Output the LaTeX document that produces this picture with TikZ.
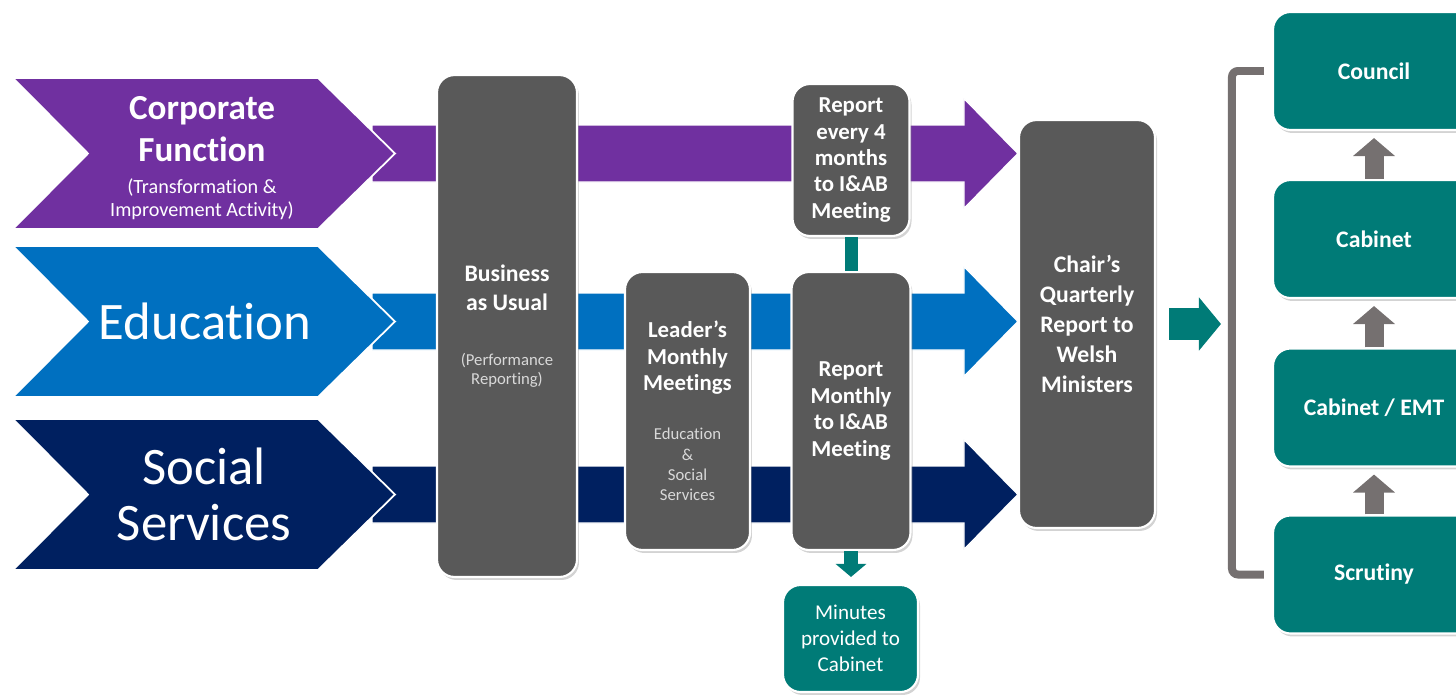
\documentclass[tikz,border=0pt]{standalone}
\usepackage{fontspec}
\setmainfont{Carlito}[Ligatures={TeX,NoCommon}]
\usetikzlibrary{arrows.meta,calc,shadows,backgrounds}
\definecolor{corpcol}{HTML}{7030A0}
\definecolor{educol}{HTML}{0070C0}
\definecolor{soccol}{HTML}{002060}
\definecolor{boxgrey}{HTML}{595959}
\definecolor{tealcol}{HTML}{007B77}
\definecolor{brkgrey}{HTML}{757070}
\definecolor{subgrey}{HTML}{D9D9D9}

\newcommand{\bandarrow}[3]{%
  \filldraw[fill=#1, draw=white, line width=0.8pt]
    ($(#2)+(0,-28.5)$) -- ($(#3)+(-54,-28.5)$) -- ($(#3)+(-54,-55)$) -- (#3)
    -- ($(#3)+(-54,55)$) -- ($(#3)+(-54,28.5)$) -- ($(#2)+(0,28.5)$) -- cycle;}
\newcommand{\subline}[1]{{\mdseries\color{subgrey}\fontsize{9.5}{11}\selectfont #1}}

\begin{document}
\begin{tikzpicture}[x=0.02cm,y=-0.02cm,
  greybox/.style={draw=white, line width=1.2pt, fill=boxgrey, rounded corners=0.35cm,
    inner sep=0pt, text=white, align=center, font=\bfseries\fontsize{13}{15}\selectfont,
    drop shadow={opacity=0.35, shadow xshift=0.04cm, shadow yshift=-0.06cm}},
  tealbox/.style={greybox, fill=tealcol},
  sidebox/.style={tealbox, minimum width=4.04cm, minimum height=2.36cm,
    font=\bfseries\fontsize{13.5}{16}\selectfont},
  chevtext/.style={text=white, align=center, inner sep=0pt},
  uparrow/.style={draw=brkgrey, line width=0.38cm, -{Triangle[length=0.36cm, width=0.82cm]},
    shorten >=0.14cm}]
\useasboundingbox (0,0) rectangle (1456,696);

\node[greybox, minimum width=2.8cm, minimum height=10.04cm, font=\bfseries\fontsize{13.5}{17}\selectfont]
  (bau) at (507,326) {Business\\as Usual\\[14pt]\subline{(Performance}\\[-6pt]\subline{Reporting)}};
\node[greybox, minimum width=2.5cm, minimum height=5.56cm]
  (leader) at (687.5,411) {Leader’s\\Monthly\\Meetings\\[13pt]\subline{Education}\\[-3.5pt]\subline{\&}\\[-3.5pt]\subline{Social}\\[-3.5pt]\subline{Services}};
\node[greybox, minimum width=2.34cm, minimum height=3.04cm]
  (rep4) at (851,160) {Report\\every 4\\months\\to I\&AB\\Meeting};
\node[greybox, minimum width=2.38cm, minimum height=5.56cm]
  (rmonth) at (851,411) {Report\\Monthly\\to I\&AB\\Meeting};
\node[greybox, minimum width=2.72cm, minimum height=8.16cm, font=\bfseries\fontsize{13.5}{17}\selectfont]
  (chair) at (1087,324) {Chair’s\\Quarterly\\Report to\\Welsh\\Ministers};
\node[tealbox, minimum width=2.7cm, minimum height=2.14cm, font=\fontsize{12}{14.7}\selectfont]
  (minutes) at (850.5,638.5) {Minutes\\provided to\\Cabinet};

\node[sidebox] (council) at (1374,71) {Council};
\node[sidebox] (cabinet) at (1374,239) {Cabinet};
\node[sidebox] (cabemt) at (1374,407.5) {Cabinet / EMT};
\node[sidebox] (scrutiny) at (1374,574.5) {Scrutiny};

\begin{scope}[on background layer]
  \coordinate (corpS) at (372,153.5);
  \coordinate (eduS) at (372,321.5);
  \coordinate (socS) at (372,494.5);
  \coordinate (corpT) at (chair.west |- corpS);
  \coordinate (eduT) at (chair.west |- eduS);
  \coordinate (socT) at (chair.west |- socS);
  \bandarrow{corpcol}{corpS}{corpT}
  \bandarrow{educol}{eduS}{eduT}
  \bandarrow{soccol}{socS}{socT}
  \foreach \t/\c in {78/corpcol, 246/educol, 419/soccol}
    \filldraw[fill=\c, draw=white, line width=1pt] (13,\t) -- ++(305,0) -- ++(77,75.5)
      -- ++(-77,75.5) -- ++(-305,0) -- ++(75,-75.5) -- cycle;
\end{scope}

\node[chevtext, font=\bfseries\fontsize{20}{24}\selectfont] (corp) at (202,158)
  {Corporate\\Function\\[-6pt]{\mdseries\fontsize{11.5}{13}\selectfont (Transformation \&}\\[-11pt]{\mdseries\fontsize{11.5}{13}\selectfont Improvement Activity)}};
\node[chevtext, font=\fontsize{30}{32}\selectfont] (edu) at (205,321) {Education};
\node[chevtext, font=\fontsize{30}{32}\selectfont] (soc) at (204,494) {Social\\Services};

\draw[tealcol, line width=0.26cm] (rep4.south) -- (rmonth.north);
\draw[tealcol, line width=0.28cm, -{Triangle[length=0.26cm, width=0.6cm]}, shorten >=0.14cm]
  (rmonth.south) -- (rmonth.south |- minutes.north);

\coordinate (brk) at ($(council.west)+(-40,0)$);
\draw[tealcol, line width=0.64cm, -{Triangle[length=0.44cm, width=1.04cm]},
  shorten <=0.26cm, shorten >=0.22cm] (chair.east) -- (chair.east -| brk);
\draw[brkgrey, line width=0.16cm, rounded corners=0.12cm, shorten <=0.16cm, shorten >=0.16cm]
  (council.west) -- (brk) |- (scrutiny.west);

\foreach \a/\b in {cabinet/council, cabemt/cabinet, scrutiny/cabemt}
  \draw[uparrow] (\a.north) -- (\b.south);
\end{tikzpicture}
\end{document}
